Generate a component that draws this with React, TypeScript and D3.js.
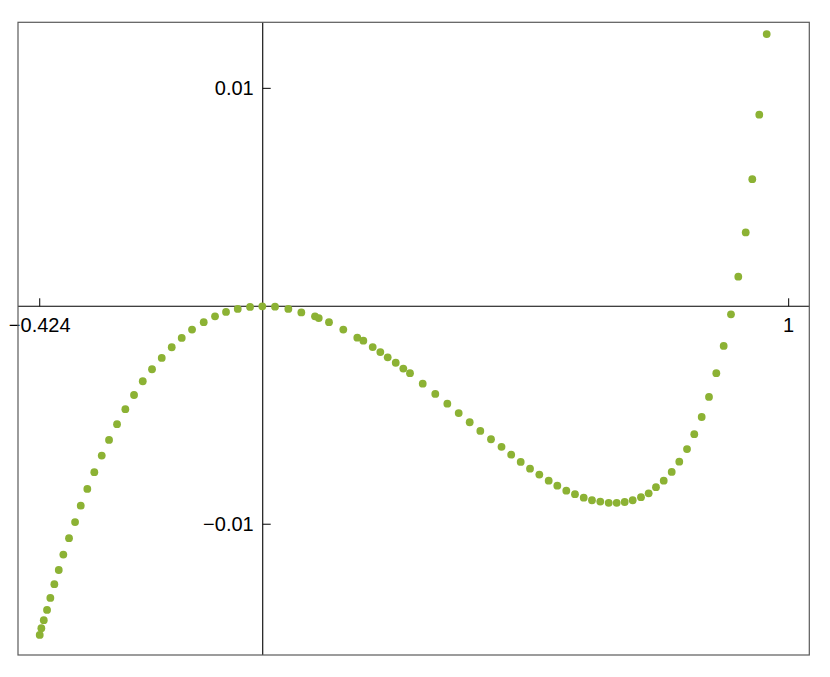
import React from 'react';
import * as d3 from 'd3';

const W = 830;
const H = 677;

const xs = [
  -0.424, -0.4209, -0.4163, -0.4101, -0.4038, -0.3962, -0.3878, -0.3791, -0.3683, -0.3568,
  -0.346, -0.3335, -0.3202, -0.3061, -0.2922, -0.277, -0.2612, -0.2447, -0.2281, -0.2105,
  -0.192, -0.173, -0.154, -0.1344, -0.1122, -0.0907, -0.0698, -0.0475, -0.0241, -0.0008,
  0.0234, 0.0487, 0.0734, 0.0994, 0.1065, 0.126, 0.1532, 0.1798, 0.1913, 0.2091,
  0.2236, 0.2376, 0.2529, 0.2673, 0.28, 0.3042, 0.3281, 0.351, 0.3726, 0.3935,
  0.4137, 0.434, 0.454, 0.4724, 0.4905, 0.5082, 0.5259, 0.5437, 0.5601, 0.5772,
  0.5937, 0.6103, 0.626, 0.6418, 0.6578, 0.673, 0.6882, 0.7034, 0.7192, 0.7338,
  0.7477, 0.7624, 0.7776, 0.792, 0.8067, 0.8205, 0.8346, 0.8485, 0.8624, 0.8764,
  0.8903, 0.9042, 0.9183, 0.9308, 0.9441, 0.9582,
];
const ys = [
  -0.01508, -0.01477, -0.0144, -0.01393, -0.01338, -0.01275, -0.0121, -0.01139, -0.01064, -0.0099,
  -0.00915, -0.00838, -0.00761, -0.00685, -0.00613, -0.00541, -0.00472, -0.00407, -0.00344, -0.00289,
  -0.00237, -0.00188, -0.00145, -0.00107, -0.00073, -0.00046, -0.00026, -0.00012, -0.00003, 0,
  -0.00002, -0.00012, -0.00028, -0.00046, -0.00054, -0.00073, -0.00107, -0.00144, -0.00158, -0.00187,
  -0.0021, -0.00234, -0.00259, -0.00286, -0.00307, -0.00355, -0.00402, -0.00447, -0.0049, -0.00532,
  -0.00572, -0.0061, -0.00645, -0.00681, -0.00714, -0.00745, -0.00772, -0.008, -0.00823, -0.00846,
  -0.00862, -0.00878, -0.0089, -0.00896, -0.00902, -0.00902, -0.00898, -0.0089, -0.00876, -0.00858,
  -0.0083, -0.008, -0.0076, -0.00713, -0.00655, -0.00587, -0.00508, -0.00416, -0.00307, -0.00182,
  -0.00037, 0.00136, 0.00339, 0.00583, 0.00879, 0.01249,
];

const xTicks = [-0.424, 1];
const xTickLabels = ['\u22120.424', '1'];
const yTicks = [0.01, -0.01];
const yTickLabels = ['0.01', '\u22120.01'];

const xDomain = [-0.4653, 1.0392];
const yDomain = [-0.016, 0.01303];

const frame = { left: 18, right: 809.3, top: 22.3, bottom: 655 };
const FONT = '"Liberation Sans", Arial, sans-serif';

export default function App() {
  const x = d3.scaleLinear().domain(xDomain).range([frame.left, frame.right]);
  const y = d3.scaleLinear().domain(yDomain).range([frame.bottom, frame.top]);
  const x0 = x(0);
  const y0 = y(0);
  const pts = xs.map((v, i) => ({ x: v, y: ys[i] }));

  return (
    <svg width={W} height={H} style={{ position: 'absolute', left: 0, top: 0, background: '#fff' }}>
      {/* axes through origin */}
      <line x1={frame.left} x2={frame.right} y1={y0} y2={y0} stroke="#000" strokeWidth={1.1} />
      <line x1={x0} x2={x0} y1={frame.top} y2={frame.bottom} stroke="#000" strokeWidth={1.1} />

      {xTicks.map((t, i) => (
        <g key={'xt' + i}>
          <line x1={x(t)} x2={x(t)} y1={y0} y2={y0 - 8} stroke="#000" strokeWidth={1} />
          <text x={x(t)} y={y0 + 26} textAnchor="middle" fontFamily={FONT} fontSize={20} fill="#000">
            {xTickLabels[i]}
          </text>
        </g>
      ))}
      {yTicks.map((t, i) => (
        <g key={'yt' + i}>
          <line x1={x0} x2={x0 + 8} y1={y(t)} y2={y(t)} stroke="#000" strokeWidth={1} />
          <text x={x0 - 9} y={y(t) + 7} textAnchor="end" fontFamily={FONT} fontSize={20} fill="#000">
            {yTickLabels[i]}
          </text>
        </g>
      ))}

      {pts.map((d, i) => (
        <circle key={i} cx={x(d.x)} cy={y(d.y)} r={3.9} fill="#8cb234" />
      ))}

      <rect
        x={frame.left}
        y={frame.top}
        width={frame.right - frame.left}
        height={frame.bottom - frame.top}
        fill="none"
        stroke="#5a5a5a"
        strokeWidth={1.2}
      />
    </svg>
  );
}
